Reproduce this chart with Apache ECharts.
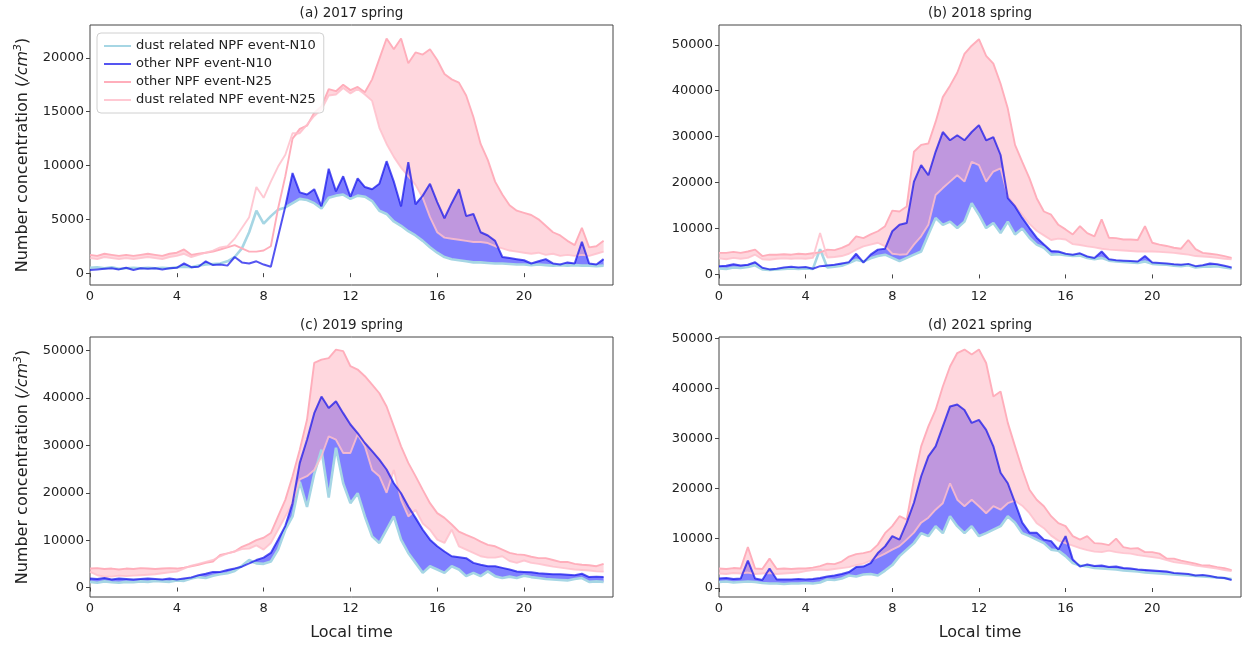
<!DOCTYPE html>
<html>
<head>
<meta charset="utf-8">
<script src="https://cdn.jsdelivr.net/npm/echarts@6/dist/echarts.min.js"></script>
<style>
  html, body { margin: 0; background: #fff; }
  #main { width: 1245px; height: 645px; }
</style>
</head>
<body>
<div id="main"></div>
<script>
// local time axis, 20-minute steps
const hours = [];
for (let i = 0; i < 72; i++) hours.push(i / 3);
const hourTicks = [0, 4, 8, 12, 16, 20];
const yTicks2017 = [0, 5000, 10000, 15000, 20000];
const yTicks50k = [0, 10000, 20000, 30000, 40000, 50000];

const names = ['dust related NPF event-N10', 'other NPF event-N10', 'other NPF event-N25', 'dust related NPF event-N25'];

// (a) 2017 spring
const dustN10_2017 = [
  500, 550, 450, 550, 400, 450, 500, 450, 500, 450, 500, 450,
  550, 600, 550, 700, 800, 850, 900, 1100, 1500, 2300, 3800, 5800,
  4600, 5300, 5900, 6100, 6500, 6900, 6800, 6500, 6000, 7000, 7200, 7300,
  6900, 7200, 7100, 6700, 5800, 5500, 4800, 4400, 3900, 3500, 3000, 2400,
  1900, 1500, 1300, 1200, 1100, 1000, 1000, 950, 900, 900, 850, 800,
  800, 750, 800, 750, 700, 750, 700, 750, 700, 700, 650, 700
];
const otherN10_2017 = [
  300, 350, 400, 450, 350, 500, 300, 450, 400, 450, 350, 450,
  500, 900, 550, 600, 1100, 750, 800, 700, 1500, 1000, 900, 1100,
  800, 600, 3400, 6200, 9300, 7500, 7300, 7800, 6200, 9700, 7600, 9000,
  7100, 8800, 8000, 7800, 8300, 10400, 8500, 6200, 10300, 6400, 7200, 8300,
  6600, 5100, 6500, 7800, 5300, 5500, 3800, 3500, 3000, 1500, 1400, 1300,
  1200, 900, 1100, 1300, 900, 800, 1000, 900, 2900, 900, 800, 1300
];
const otherN25_2017 = [
  1700, 1600, 1800, 1700, 1600, 1700, 1600, 1700, 1800, 1700, 1600, 1800,
  1900, 2200, 1700, 1800, 1900, 2000, 2200, 2400, 2600, 2300, 2000, 2000,
  2100, 2500, 6000, 9000, 12500, 13400, 13700, 14900, 15500, 17100, 16900, 17500,
  17000, 17300, 16800, 18000, 19900, 21800, 20800, 21800, 19500, 20500, 20300, 20800,
  19800, 18500, 18000, 17700, 16500, 14500, 12000, 10500, 8500, 7300, 6300, 5800,
  5600, 5400, 5000, 4400, 3800, 3500, 3000, 2600, 4200, 2400, 2500, 3000
];
const dustN25_2017 = [
  1400, 1300, 1500, 1400, 1300, 1400, 1300, 1400, 1500, 1400, 1300, 1500,
  1600, 1800, 1500, 1700, 1900, 2100, 2400, 2500, 3200, 4200, 5200, 8000,
  7000, 8500, 9900, 11000, 13000, 13000, 13800, 14600, 15200, 16500, 16600, 17200,
  16700, 17100, 16600, 16000, 13500, 12000, 10800, 9800, 9000, 8200, 7000, 5200,
  3800, 3300, 3200, 3100, 3000, 2900, 2900, 2800, 2500, 2300, 2100, 2000,
  1900, 1800, 1900, 1700, 1800, 1600, 1700, 1600, 1700, 1600, 1800, 2000
];

// (b) 2018 spring
const dustN10_2018 = [
  1300, 1200, 1500, 1400, 1600, 2000, 1100, 1000, 1100, 1200, 1300, 1200,
  1300, 1200, 5500, 1500, 1700, 1900, 2500, 3200, 2800, 3500, 4000, 4300,
  3600, 2900, 3600, 4300, 5000, 8700, 12300, 10800, 11500, 10100, 11500, 15500,
  13000, 10100, 11200, 9000, 11500, 8700, 10000, 8000, 6500, 5800, 4300, 4400,
  4200, 4000, 4100, 3600, 3300, 3600, 3000, 2800, 2700, 2600, 2500, 2800,
  2300, 2200, 2100, 1900, 1800, 2000, 1500, 1700, 1700, 1800, 1500, 1300
];
const otherN10_2018 = [
  1800, 1900, 2200, 1950, 2100, 2670, 1440, 1100, 1230, 1500, 1660, 1500,
  1600, 1230, 1800, 1950, 2100, 2400, 2670, 4500, 2600, 4300, 5400, 5600,
  9400, 10800, 11200, 20200, 23800, 21600, 26700, 31000, 29200, 30300, 29200, 31000,
  32500, 29200, 29900, 26000, 16600, 14800, 12300, 10100, 8000, 6500, 5100, 5000,
  4500, 4300, 4600, 3900, 3600, 5000, 3300, 3100, 3000, 2900, 2800, 4000,
  2600, 2500, 2400, 2200, 2100, 2300, 1800, 2000, 2400, 2200, 1900, 1500
];
const otherN25_2018 = [
  4700, 4700, 4900, 4700, 5000, 5400, 4000, 4300, 4300, 4400, 4300, 4500,
  4400, 4600, 4800, 5400, 5300, 5800, 6500, 8300, 7900, 8700, 9400, 10500,
  13900, 13700, 14800, 26700, 28200, 28500, 33200, 38600, 41100, 43900, 48000, 49800,
  51200, 47600, 45900, 41500, 36100, 28200, 24500, 20900, 16600, 13700, 13000, 10800,
  9800, 8700, 10500, 9000, 8300, 12000, 8000, 7900, 7600, 7600, 7500, 10500,
  6900, 6500, 6200, 5800, 5600, 7500, 5500, 4700, 4500, 4300, 4000, 3600
];
const dustN25_2018 = [
  3500, 3300, 3600, 3400, 3600, 4300, 3300, 3200, 3400, 3500, 3400, 3500,
  3400, 3600, 9000, 3700, 3800, 4000, 4500, 5400, 6100, 6500, 6900, 6100,
  4500, 4300, 4400, 6500, 8300, 10800, 17300, 18800, 20200, 21600, 20200, 24500,
  23800, 20200, 22400, 23100, 17000, 15000, 13000, 11000, 9500, 8500, 7500, 7800,
  7600, 6600, 6400, 6100, 5900, 5600, 5400, 5300, 5200, 5100, 5000, 5000,
  5000, 4900, 4800, 4700, 4500, 4300, 4000, 3900, 3800, 3600, 3400, 3300
];

// (c) 2019 spring
const dustN10_2019 = [
  1200, 1000, 1300, 1100, 1000, 1200, 1100, 1300, 1200, 1400, 1300, 1200,
  1500, 1400, 1900, 2200, 2000, 2500, 2800, 3000, 3500, 4600, 5800, 5100,
  5000, 5500, 8000, 12200, 15000, 22300, 17000, 24000, 29100, 19000, 29500, 22000,
  17800, 19900, 15000, 10800, 9400, 12200, 15000, 10100, 7300, 5200, 3100, 4500,
  3800, 3100, 4500, 3800, 2400, 3100, 2400, 3400, 2400, 2000, 2300, 2000,
  2500, 2200, 2000, 1800, 1700, 1600, 1500, 1800, 2000, 1200, 1300, 1200
];
const otherN10_2019 = [
  1900, 1800, 2000, 1700, 1900, 1800, 1700, 1800, 1900, 1800, 1700, 1900,
  1700, 1900, 2100, 2600, 2900, 3300, 3300, 3700, 4000, 4400, 5100, 5800,
  6300, 7300, 10100, 13000, 17800, 26300, 31200, 36800, 40300, 37900, 39300, 36800,
  34400, 32600, 30500, 28800, 27000, 24900, 22000, 19900, 17100, 14700, 12200, 10100,
  8700, 7600, 6600, 6400, 6200, 5200, 4800, 4500, 4500, 4150, 3800, 3400,
  3300, 3200, 3000, 2900, 2800, 2800, 2700, 2600, 2900, 2200, 2300, 2200
];
const otherN25_2019 = [
  4000, 4100, 3900, 4000, 3800, 4000, 3900, 4100, 4000, 3900, 4000, 4100,
  4000, 4200, 4500, 4800, 5200, 5500, 6900, 7200, 7600, 8600, 9200, 10000,
  10500, 11500, 15000, 18500, 23500, 29100, 35400, 47400, 48100, 48400, 50200, 49900,
  46700, 46000, 44600, 42800, 41000, 38200, 34000, 29800, 26300, 23500, 20600, 17800,
  15700, 14700, 13300, 11800, 11100, 10500, 9700, 9000, 8700, 8000, 7300, 7000,
  6900, 6500, 6200, 6200, 5800, 5400, 5400, 5000, 4800, 4700, 4500, 5000
];
const dustN25_2019 = [
  3300, 2600, 2300, 2300, 2500, 2400, 2500, 2600, 2700, 2800, 3000, 3200,
  3350, 4000, 4600, 5000, 5400, 5800, 6600, 7200, 7600, 8100, 8200, 8900,
  8000, 9400, 12200, 15000, 17800, 22800, 23500, 24800, 27700, 31900, 31200, 28400,
  28400, 32300, 29800, 24800, 23500, 20000, 24800, 18500, 15000, 16400, 13500, 12200,
  10100, 9400, 12200, 8700, 8000, 7300, 6600, 6300, 6300, 6600, 5600, 5200,
  5700, 5200, 5000, 4700, 4400, 4200, 4000, 3800, 3700, 3600, 3400, 3350
];

// (d) 2021 spring
const dustN10_2021 = [
  1200, 1300, 1100, 1200, 1300, 1200, 1000, 900, 900, 800, 900, 900,
  1000, 900, 1100, 1700, 1600, 1900, 2500, 2300, 2700, 2800, 2500, 3500,
  4600, 6400, 7700, 9000, 11000, 10400, 12400, 11000, 14400, 12400, 11000, 12400,
  10400, 11000, 11700, 12400, 14400, 13100, 11000, 10400, 9700, 9000, 7700, 7500,
  6400, 5000, 4500, 4300, 4000, 3900, 3800, 3700, 3500, 3400, 3300, 3100,
  3000, 2900, 2800, 2700, 2600, 2500, 2400, 2300, 2200, 2100, 2000, 1800
];
const otherN10_2021 = [
  1900, 2000, 1800, 1900, 5500, 1900, 1600, 3900, 1700, 1700, 1700, 1800,
  1700, 1800, 2000, 2300, 2500, 2800, 3200, 4200, 4300, 5000, 7000, 8350,
  10400, 9700, 13100, 17100, 22400, 26400, 28400, 32400, 36400, 36800, 35700, 33100,
  33700, 31700, 28400, 23100, 21000, 17100, 13100, 11100, 11100, 9700, 9400, 7700,
  10400, 5700, 4330, 4700, 4400, 4500, 4200, 4300, 4000, 3900, 3700, 3600,
  3500, 3400, 3300, 3000, 2900, 2800, 2500, 2600, 2400, 2100, 2000, 1600
];
const otherN25_2021 = [
  3900, 3800, 4000, 3900, 8200, 3900, 3800, 5900, 3800, 3900, 3800, 3900,
  3900, 4100, 4400, 4900, 4800, 5300, 6300, 6800, 7000, 7350, 8700, 11000,
  12400, 14400, 13700, 21700, 28400, 32400, 35700, 40400, 44400, 47100, 47800, 46800,
  47800, 45100, 38400, 39400, 33100, 28400, 23800, 19700, 17700, 16400, 14400, 13000,
  12400, 10400, 9700, 10400, 9000, 8900, 8600, 9900, 8200, 7900, 8000, 7200,
  7200, 6900, 5900, 5900, 5500, 5200, 4900, 4500, 4500, 4200, 4000, 3600
];
const dustN25_2021 = [
  2900, 2800, 3000, 2900, 3100, 2800, 2900, 3000, 2800, 2900, 3000, 3100,
  3400, 3600, 3700, 3600, 3800, 4000, 4200, 4600, 4900, 5500, 6200, 6900,
  7700, 8400, 9700, 11100, 13100, 14100, 15700, 17000, 21000, 17700, 16400, 17700,
  16400, 15000, 16400, 15700, 17000, 17500, 16500, 15000, 13000, 12000, 10500, 9500,
  9000, 8500, 8000, 7600, 7300, 7200, 7500, 7200, 7000, 6900, 6600, 6400,
  6200, 6000, 5600, 5200, 5000, 4800, 4500, 4300, 4100, 3900, 3600, 3400
];

const panels = [
  { title: '(a) 2017 spring', d10: dustN10_2017, o10: otherN10_2017, o25: otherN25_2017, d25: dustN25_2017, yMin: -1100, yMax: 23050, yTicks: yTicks2017 },
  { title: '(b) 2018 spring', d10: dustN10_2018, o10: otherN10_2018, o25: otherN25_2018, d25: dustN25_2018, yMin: -2300, yMax: 54300, yTicks: yTicks50k },
  { title: '(c) 2019 spring', d10: dustN10_2019, o10: otherN10_2019, o25: otherN25_2019, d25: dustN25_2019, yMin: -2000, yMax: 52870, yTicks: yTicks50k },
  { title: '(d) 2021 spring', d10: dustN10_2021, o10: otherN10_2021, o25: otherN25_2021, d25: dustN25_2021, yMin: -1800, yMax: 50320, yTicks: yTicks50k }
];

const boxes = [
  { left: 90, top: 25, width: 523, height: 260 },
  { left: 719, top: 25, width: 522, height: 260 },
  { left: 90, top: 337, width: 523, height: 260 },
  { left: 719, top: 337, width: 522, height: 260 }
];

const FONT = 'DejaVu Sans';
const colors = {
  d10: '#a6d6e4',
  o10: 'rgba(20,20,235,0.72)',
  o25: '#ffaebb',
  d25: 'rgba(255,192,203,0.85)',
  blueFill: 'rgba(0,0,255,0.5)',
  pinkFill: 'rgba(255,176,190,0.5)'
};

// fill between two curves where upper > lower (like fill_between with where=)
function band(idx, upper, lower, color, z) {
  return {
    type: 'custom',
    xAxisIndex: idx,
    yAxisIndex: idx,
    silent: true,
    z: z,
    data: [[0, 0]],
    encode: { x: 0, y: 1 },
    renderItem: function (params, api) {
      const top = [], bot = [];
      for (let i = 0; i < hours.length; i++) {
        top.push(api.coord([hours[i], upper[i]]));
        bot.push(api.coord([hours[i], Math.min(upper[i], lower[i])]));
      }
      return {
        type: 'polygon',
        shape: { points: top.concat(bot.reverse()) },
        style: { fill: color, stroke: null }
      };
    }
  };
}

function line(idx, name, arr, color, width, z) {
  return {
    type: 'line',
    name: name,
    xAxisIndex: idx,
    yAxisIndex: idx,
    data: hours.map((h, i) => [h, arr[i]]),
    showSymbol: false,
    symbol: 'none',
    silent: true,
    z: z,
    itemStyle: { color: color },
    lineStyle: { color: color, width: width }
  };
}

const grid = [], xAxis = [], yAxis = [], series = [], graphic = [];
panels.forEach((p, idx) => {
  const b = boxes[idx];
  grid.push({ left: b.left, top: b.top, width: b.width, height: b.height, show: true, borderColor: '#444', borderWidth: 1, backgroundColor: 'transparent' });
  xAxis.push({
    type: 'value', gridIndex: idx, min: 0, max: 24.1,
    name: idx >= 2 ? 'Local time' : '',
    nameLocation: 'middle', nameGap: 28,
    nameTextStyle: { fontFamily: FONT, fontSize: 16, color: '#222' },
    axisLine: { show: false },
    splitLine: { show: false },
    axisTick: { show: true, length: 4, lineStyle: { color: '#444' }, customValues: hourTicks },
    axisLabel: { fontFamily: FONT, fontSize: 13, color: '#222', margin: 5, customValues: hourTicks, formatter: v => String(v) }
  });
  yAxis.push({
    type: 'value', gridIndex: idx, min: p.yMin, max: p.yMax,
    name: idx % 2 === 0 ? 'Number concentration ({i|/cm}{s|3})' : '',
    nameLocation: 'middle', nameGap: 58,
    nameTextStyle: {
      fontFamily: FONT, fontSize: 16, color: '#222',
      rich: {
        i: { fontFamily: FONT, fontSize: 16, fontStyle: 'italic', color: '#222' },
        s: { fontFamily: FONT, fontSize: 11, fontStyle: 'italic', color: '#222', verticalAlign: 'top', padding: [0, 0, 8, 0] }
      }
    },
    axisLine: { show: false },
    splitLine: { show: false },
    axisTick: { show: true, length: 4, lineStyle: { color: '#444' }, customValues: p.yTicks },
    axisLabel: { fontFamily: FONT, fontSize: 13, color: '#222', margin: 6, customValues: p.yTicks, formatter: v => String(v) }
  });
  series.push(band(idx, p.o10, p.d10, colors.blueFill, 1));
  series.push(band(idx, p.o25, p.d25, colors.pinkFill, 2));
  series.push(line(idx, names[0], p.d10, colors.d10, 2.6, 3));
  series.push(line(idx, names[1], p.o10, colors.o10, 2, 4));
  series.push(line(idx, names[2], p.o25, colors.o25, 1.9, 3));
  series.push(line(idx, names[3], p.d25, colors.d25, 1.9, 3));
  graphic.push({
    type: 'text',
    x: b.left + b.width / 2,
    y: b.top - 12,
    style: { text: p.title, font: '13.5px "DejaVu Sans"', fill: '#222', textAlign: 'center', textVerticalAlign: 'middle' }
  });
});

const chart = echarts.init(document.getElementById('main'), null, { renderer: 'canvas' });
chart.setOption({
  animation: false,
  backgroundColor: '#fff',
  grid: grid,
  xAxis: xAxis,
  yAxis: yAxis,
  series: series,
  graphic: graphic,
  legend: {
    data: names,
    left: 97, top: 33,
    orient: 'vertical',
    icon: 'rect',
    itemWidth: 27, itemHeight: 2,
    itemGap: 4,
    padding: [6, 8, 6, 7],
    borderColor: '#d0d0d0', borderWidth: 1, borderRadius: 4,
    backgroundColor: 'rgba(255,255,255,0.85)',
    selectedMode: false,
    textStyle: { fontFamily: FONT, fontSize: 13, color: '#222', lineHeight: 14 }
  }
});
</script>
</body>
</html>
